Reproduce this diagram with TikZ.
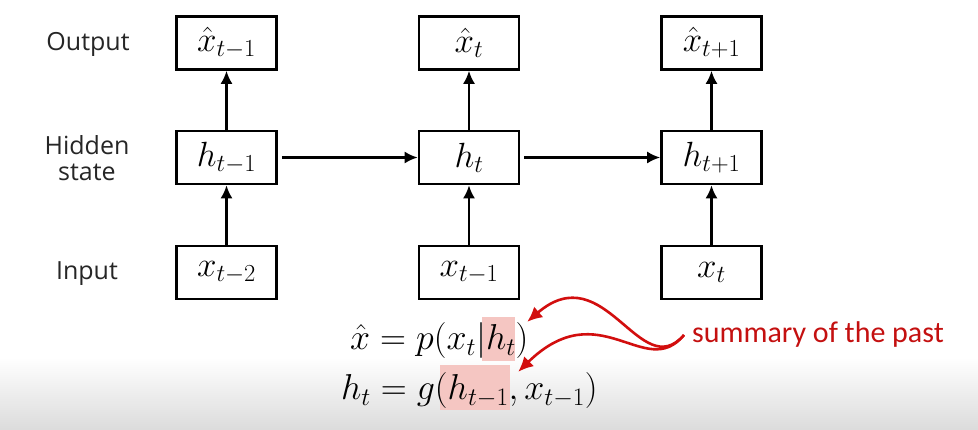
\RequirePackage{fix-cm}
\documentclass[tikz,border=0pt]{standalone}
\usepackage{amsmath}
\usepackage{fontspec}
\setmainfont{Open Sans}
\newfontfamily\notefont{Carlito}
\usetikzlibrary{arrows.meta}
\definecolor{hlpink}{RGB}{245,198,194}
\definecolor{notered}{RGB}{196,16,16}
\definecolor{arrowred}{RGB}{210,14,14}

\begin{document}
\begin{tikzpicture}[x=1pt, y=-1pt,
		cell/.style={draw, line width=2.6pt, minimum width=100pt, minimum height=53pt, inner sep=0pt, font=\fontsize{35}{40}\selectfont},
		flow/.style={line width=2.2pt, -{Latex[length=13pt,width=12pt]}},
		rowlabel/.style={font=\fontsize{25}{30}\selectfont, align=center, text=black!85},
		eq/.style={font=\fontsize{36}{42}\selectfont, inner sep=0pt},
		hl/.style={fill=hlpink, inner sep=0pt},
		pointer/.style={arrowred, line width=2.6pt, -{Latex[length=15pt,width=14pt]}}]
			% page and grey fade at the bottom
			\useasboundingbox (0,0) rectangle (978,430);
			\fill[white] (0,0) rectangle (978,357);
			\shade[top color=white, bottom color=black!14] (0,357) rectangle (978,430);

			% row labels
			\node[rowlabel, anchor=base] (lout) at (88,51) {Output};
			\node[rowlabel] (lhid) at (87,158) {Hidden\\[-4pt]state};
			\node[rowlabel, anchor=base] (lin) at (87,280) {Input};

			% cells
			\node[cell] (out1) at (226.5,43) {$\hat{x}_{t-1}$};
			\node[cell] (out2) at (469,43) {$\hat{x}_{t}$};
			\node[cell] (out3) at (711.5,43) {$\hat{x}_{t+1}$};
			\node[cell] (hid1) at (226.5,157.5) {$h_{t-1}$};
			\node[cell] (hid2) at (469,157.5) {$h_{t}$};
			\node[cell] (hid3) at (711.5,157.5) {$h_{t+1}$};
			\node[cell] (in1) at (226.5,272.5) {$x_{t-2}$};
			\node[cell] (in2) at (469,272.5) {$x_{t-1}$};
			\node[cell] (in3) at (711.5,272.5) {$x_{t}$};

			\draw[flow] (in1) -- (hid1);
			\draw[flow] (in2) -- (hid2);
			\draw[flow] (in3) -- (hid3);
			\draw[flow] (hid1) -- (out1);
			\draw[flow] (hid2) -- (out2);
			\draw[flow] (hid3) -- (out3);
			\draw[flow, shorten <=4pt] (hid1) -- (hid2);
			\draw[flow, shorten <=4pt] (hid2) -- (hid3);

			% equations with highlighted h
			\node[hl, minimum width=33pt, minimum height=44pt] (hlout) at (498.5,339) {};
			\node[hl, minimum width=70pt, minimum height=45pt] (hlhid) at (475,387.5) {};
			\node[eq, anchor=base west] (eqout) at (350,350) {$\hat{x} = p(x_t|h_t)$};
			\node[eq, anchor=base west] (eqhid) at (341,400) {$h_t = g(h_{t-1}, x_{t-1})$};

			% note and its arrows
			\node[anchor=base west, inner sep=0pt, text=notered, font=\notefont\fontsize{30}{36}\selectfont] (summary) at (692,343) {summary of the past};
			\draw[pointer] ([xshift=-8pt]summary.west) .. controls (640,385) and (605,255) .. ([xshift=12pt,yshift=-5pt]hlout.north east);
			\draw[pointer] ([xshift=-8pt]summary.west) .. controls (645,382) and (600,292) .. ([xshift=8pt,yshift=-7pt]hlhid.north east);
		\end{tikzpicture}
\end{document}
